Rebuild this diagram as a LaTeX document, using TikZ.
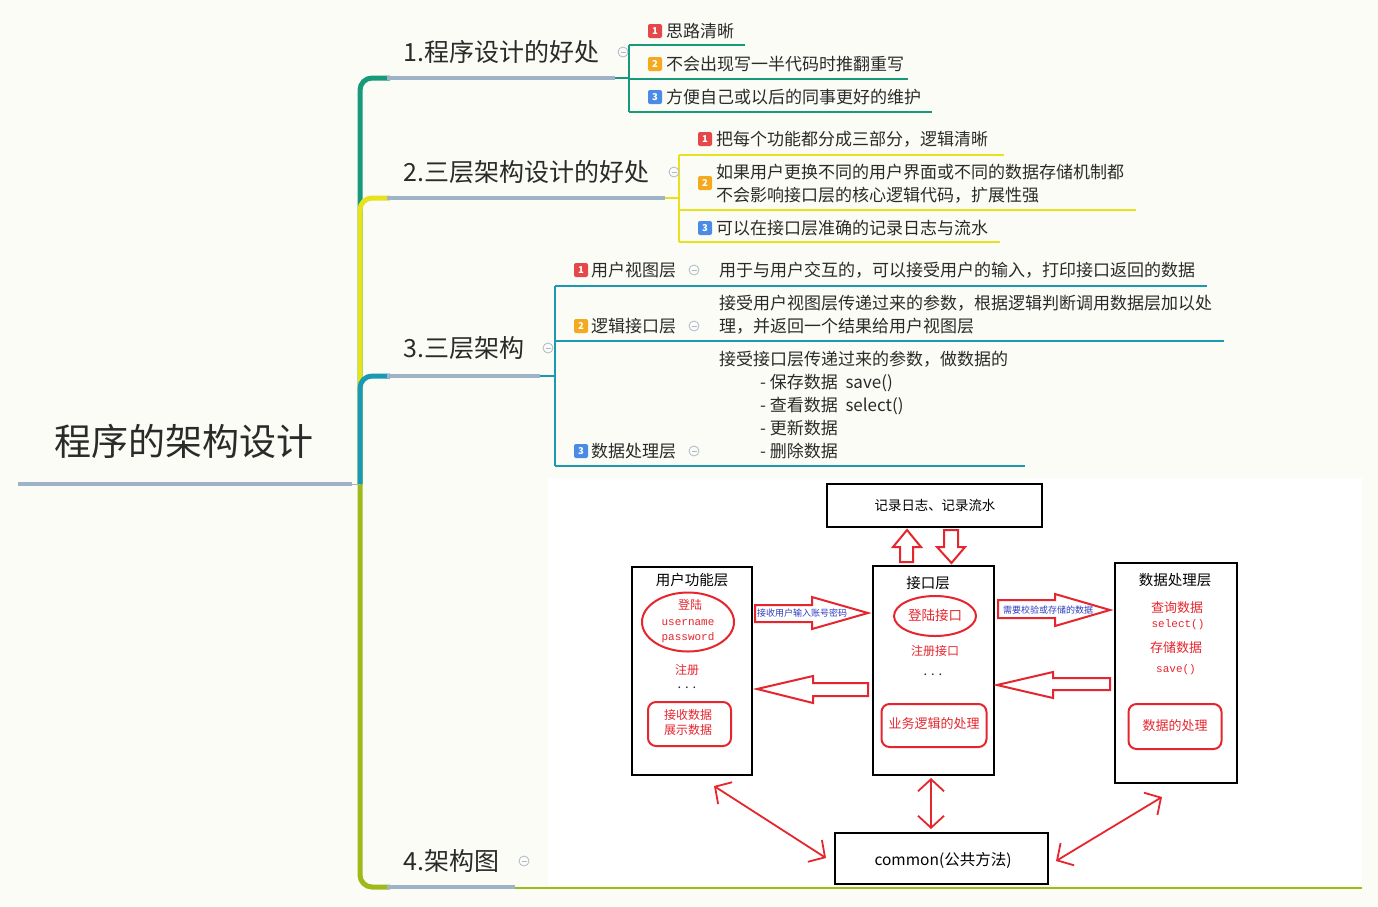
\documentclass[tikz,border=0pt]{standalone}
\usepackage{fontspec}
\setmainfont{Noto Sans CJK SC}
\newfontfamily\monofont{Liberation Mono}
\usetikzlibrary{arrows.meta,shapes.geometric}
\definecolor{bg}{HTML}{FCFCF6}
\definecolor{txt}{HTML}{2A2A2A}
\definecolor{gline}{HTML}{9FB3C8}
\definecolor{cgreen}{HTML}{179A7A}
\definecolor{cyellow}{HTML}{E6E21E}
\definecolor{cteal}{HTML}{1A99B3}
\definecolor{colive}{HTML}{9DBA1A}
\definecolor{bred}{HTML}{E5484A}
\definecolor{borange}{HTML}{F5A91E}
\definecolor{bblue}{HTML}{4A8BE6}
\definecolor{btn}{HTML}{AEB8CA}
\definecolor{dred}{HTML}{E5262E}
\definecolor{dblue}{HTML}{2E3CC0}
\tikzset{
  mm/.style={inner sep=0pt, anchor=west, text=txt},
  brtitle/.style={mm, font=\fontsize{25}{28}\selectfont},
  item/.style={mm, font=\fontsize{17}{23}\selectfont, align=left},
  badge/.style={rounded corners=2pt, minimum size=14pt, inner sep=0pt, text=white, font=\fontsize{9.5}{10}\selectfont\bfseries},
  colbtn/.style={circle, draw=btn, line width=0.8pt, fill=bg, minimum size=10pt, inner sep=0pt,
    path picture={\draw[btn, line width=0.8pt] ([xshift=-2.5pt]path picture bounding box.center) -- ([xshift=2.5pt]path picture bounding box.center);}},
  diabox/.style={draw=black, line width=2.5pt, fill=white, inner sep=0pt},
  redshape/.style={draw=dred, line width=2pt, inner sep=0pt},
  rtext/.style={text=dred, inner sep=0pt, font=\fontsize{13}{16}\selectfont},
  rmono/.style={text=dred, inner sep=0pt, font=\monofont\fontsize{11}{13}\selectfont},
  btext/.style={text=black, inner sep=0pt, font=\fontsize{14.5}{17}\selectfont},
  blockarrow/.style={draw=dred, line width=2pt, fill=white, line join=miter},
  dbl/.style={draw=dred, line width=1.8pt, {Straight Barb[length=12pt,width=26pt]}-{Straight Barb[length=12pt,width=26pt]}},
  bluelab/.style={text=dblue, inner sep=0pt, font=\fontsize{9}{10}\selectfont},
}
\begin{document}
\begin{tikzpicture}[x=1pt,y=-1pt]
\useasboundingbox (0,0) rectangle (1378,906);
\fill[bg] (0,0) rectangle (1378,906);

% ---------- main branch lines ----------
\coordinate (rootj) at (360,484);
\draw[colive, line width=5pt, rounded corners=12pt] (rootj) -- (360,887) -- (390,887);
\draw[cgreen, line width=5pt, rounded corners=12pt] (rootj) -- (360,78) -- (390,78);
\draw[cyellow, line width=5pt, rounded corners=12pt] (rootj) -- (360,198) -- (390,198);
\draw[cteal, line width=5pt, rounded corners=12pt] (rootj) -- (360,376) -- (390,376);

% root
\node[inner sep=0pt, text=txt, font=\fontsize{37}{40}\selectfont] (root) at (184,441) {程序的架构设计};
\draw[gline, line width=4pt] (18,484) -- (352,484);
\draw[gline, line width=1pt] (352,484) -- (rootj);

% ---------- branch 1 ----------
\node[brtitle] (b1) at (403,52) {1.程序设计的好处};
\draw[gline, line width=4pt] (387,78) -- (615,78);
\draw[cgreen, line width=1.2pt] (615,78) -- (629,78);
\draw[cgreen, line width=1.2pt] (629,45) -- (629,112);
\draw[cgreen, line width=1.2pt] (629,45) -- (745,45);
\draw[cgreen, line width=1.2pt] (629,79) -- (908,79);
\draw[cgreen, line width=1.2pt] (629,112) -- (932,112);
\node[colbtn] (c1) at (623,52) {};
\node[badge, fill=bred] (b11) at (655,31) {1};
\node[item] (t11) at (666,31) {思路清晰};
\node[badge, fill=borange] (b12) at (655,64) {2};
\node[item] (t12) at (666,64) {不会出现写一半代码时推翻重写};
\node[badge, fill=bblue] (b13) at (655,97) {3};
\node[item] (t13) at (666,97) {方便自己或以后的同事更好的维护};

% ---------- branch 2 ----------
\node[brtitle] (b2) at (403,172) {2.三层架构设计的好处};
\draw[gline, line width=4pt] (387,198) -- (665,198);
\draw[cyellow, line width=1.2pt] (665,198) -- (679,198);
\draw[cyellow, line width=1.2pt] (679,155) -- (679,242);
\draw[cyellow, line width=1.2pt] (679,155) -- (1004,155);
\draw[cyellow, line width=1.2pt] (679,210) -- (1136,210);
\draw[cyellow, line width=1.2pt] (679,242) -- (1000,242);
\node[colbtn] (c2) at (674,172) {};
\node[badge, fill=bred] (b21) at (705,139) {1};
\node[item] (t21) at (716,139) {把每个功能都分成三部分，逻辑清晰};
\node[badge, fill=borange] (b22) at (705,183) {2};
\node[item] (t22) at (716,183.5) {如果用户更换不同的用户界面或不同的数据存储机制都\\不会影响接口层的核心逻辑代码，扩展性强};
\node[badge, fill=bblue] (b23) at (705,228) {3};
\node[item] (t23) at (716,228) {可以在接口层准确的记录日志与流水};

% ---------- branch 3 ----------
\node[brtitle] (b3) at (403,348) {3.三层架构};
\draw[gline, line width=4pt] (387,376) -- (540,376);
\draw[cteal, line width=1.2pt] (540,376) -- (555,376);
\draw[cteal, line width=1.2pt] (555,286) -- (555,466);
\draw[cteal, line width=1.2pt] (555,286) -- (1207,286);
\draw[cteal, line width=1.2pt] (555,341) -- (1224,341);
\draw[cteal, line width=1.2pt] (555,466) -- (1025,466);
\node[colbtn] (c3) at (548,348) {};
\node[badge, fill=bred] (b31) at (581,270) {1};
\node[item] (t31) at (591,270) {用户视图层};
\node[colbtn] (c31) at (694,270) {};
\node[item] (d31) at (719,270) {用于与用户交互的，可以接受用户的输入，打印接口返回的数据};
\node[badge, fill=borange] (b32) at (581,326) {2};
\node[item] (t32) at (591,326) {逻辑接口层};
\node[colbtn] (c32) at (694,326) {};
\node[item] (d32) at (719,314.5) {接受用户视图层传递过来的参数，根据逻辑判断调用数据层加以处\\理，并返回一个结果给用户视图层};
\node[badge, fill=bblue] (b33) at (581,451) {3};
\node[item] (t33) at (591,451) {数据处理层};
\node[colbtn] (c33) at (694,451) {};
\node[item] (d33) at (719,405) {接受接口层传递过来的参数，做数据的\\
\hspace*{41pt}- 保存数据\ \ save()\\
\hspace*{41pt}- 查看数据\ \ select()\\
\hspace*{41pt}- 更新数据\\
\hspace*{41pt}- 删除数据};

% ---------- branch 4 ----------
\node[brtitle] (b4) at (403,861) {4.架构图};
\draw[colive, line width=1.2pt] (515,888) -- (1362,888);
\draw[gline, line width=4pt] (387,887) -- (515,887);
\node[colbtn] (c4) at (524,861) {};

% ---------- architecture picture ----------
\fill[white] (548,478) rectangle (1362,885);

\node[diabox, minimum width=215pt, minimum height=43pt] (log) at (934.5,505.5) {};
\node[btext, font=\fontsize{13.4}{16}\selectfont] (logt) at (935,505) {记录日志、记录流水};

\node[diabox, minimum width=120pt, minimum height=208pt] (user) at (692,671) {};
\node[diabox, minimum width=121pt, minimum height=209pt] (iface) at (933.5,670.5) {};
\node[diabox, minimum width=122pt, minimum height=220pt] (data) at (1176,673) {};
\node[diabox, minimum width=213pt, minimum height=51pt] (common) at (941.5,858.5) {};
\node[btext, font=\fontsize{15.5}{18}\selectfont] (commt) at (943,860) {common(公共方法)};

% user box contents
\node[btext] (usert) at (692,580) {用户功能层};
\node[redshape, ellipse, minimum width=92pt, minimum height=59pt] (ulogin) at (688,622) {};
\node[rtext, font=\fontsize{12}{14}\selectfont] (ul1) at (690,605) {登陆};
\node[rmono] (ul2) at (688,623) {username};
\node[rmono] (ul3) at (688,638) {password};
\node[rtext, font=\fontsize{12}{14}\selectfont] (ureg) at (687,670) {注册};
\node[rtext, text=txt] (udots) at (687,688) {. . .};
\node[redshape, rounded corners=8pt, minimum width=83pt, minimum height=44pt] (urecv) at (689.5,724) {};
\node[rtext, align=center, font=\fontsize{12}{15}\selectfont] (urecvt) at (688,722) {接收数据\\展示数据};

% interface box contents
\node[btext] (ifacet) at (928,583) {接口层};
\node[redshape, ellipse, minimum width=82pt, minimum height=40pt] (ilogin) at (935,616) {};
\node[rtext, font=\fontsize{13.5}{16}\selectfont] (ilogint) at (935,615) {登陆接口};
\node[rtext, font=\fontsize{12}{14}\selectfont] (ireg) at (935,651) {注册接口};
\node[rtext, text=txt] (idots) at (933,675) {. . .};
\node[redshape, rounded corners=8pt, minimum width=105pt, minimum height=43pt] (ibiz) at (934,725.5) {};
\node[rtext] (ibizt) at (934,724) {业务逻辑的处理};

% data box contents
\node[btext] (datat) at (1175,580) {数据处理层};
\node[rtext] (dq) at (1177,608) {查询数据};
\node[rmono] (dsel) at (1178,625) {select()};
\node[rtext] (ds) at (1176,648) {存储数据};
\node[rmono] (dsave) at (1176,670) {save()};
\node[redshape, rounded corners=8pt, minimum width=93pt, minimum height=45pt] (dproc) at (1175,726.5) {};
\node[rtext] (dproct) at (1175,726) {数据的处理};

% block arrows
\draw[blockarrow] (755,605) -- (812,605) -- (812,597) -- (868,613) -- (812,629) -- (812,622) -- (755,622) -- cycle;
\node[bluelab] (lab1) at (802,613) {接收用户输入账号密码};
\draw[blockarrow] (757,689) -- (813,676) -- (813,683) -- (868,683) -- (868,696) -- (813,696) -- (813,703) -- cycle;
\draw[blockarrow] (998,600) -- (1055,600) -- (1055,594) -- (1110,610) -- (1055,626) -- (1055,618) -- (998,618) -- cycle;
\node[bluelab] (lab2) at (1048,610) {需要校验或存储的数据};
\draw[blockarrow] (997,685) -- (1053,672) -- (1053,678) -- (1110,678) -- (1110,690) -- (1053,690) -- (1053,698) -- cycle;
\draw[blockarrow] (900,562) -- (900,547) -- (893,547) -- (907,530) -- (921,547) -- (913,547) -- (913,562) -- cycle;
\draw[blockarrow] (944,530) -- (958,530) -- (958,547) -- (965,547) -- (951.5,563) -- (937,547) -- (944,547) -- cycle;

% double arrows to common
\coordinate (ua) at (714,786);
\coordinate (ca) at (826,858);
\coordinate (ia) at (931,778);
\coordinate (cb) at (931,829);
\coordinate (da) at (1162,797);
\coordinate (cc) at (1056,861);
\draw[dbl] (ua) -- (ca);
\draw[dbl] (ia) -- (cb);
\draw[dbl] (da) -- (cc);
\end{tikzpicture}
\end{document}
